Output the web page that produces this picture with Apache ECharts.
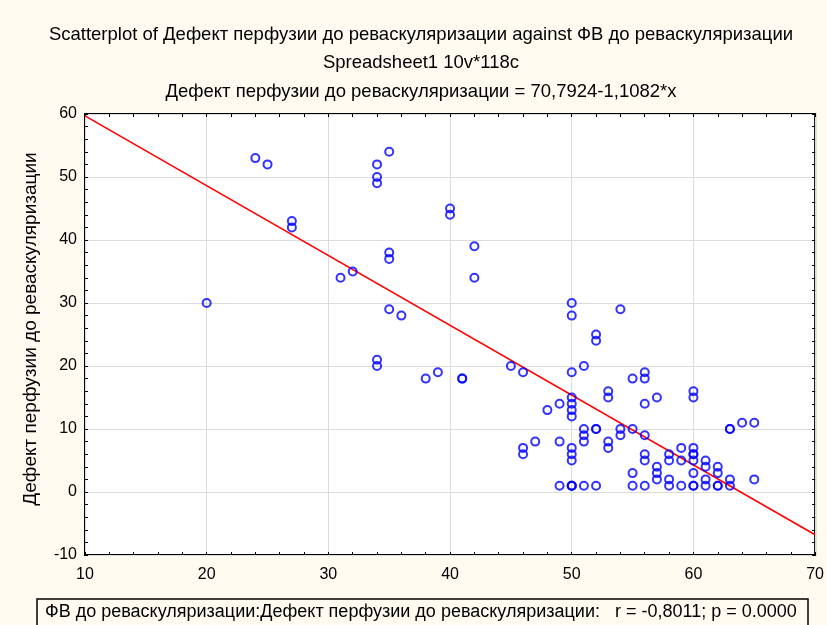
<!DOCTYPE html>
<html>
<head>
<meta charset="utf-8">
<script src="https://cdn.jsdelivr.net/npm/echarts@6/dist/echarts.min.js"></script>
<style>
  html, body { margin: 0; padding: 0; background: #fffbf0; }
  #chart { width: 827px; height: 625px; }
</style>
</head>
<body>
<div id="chart"></div>
<script>
// ФВ до реваскуляризации (x) and Дефект перфузии до реваскуляризации (y), one entry per case
const efValues = [
  20, 24, 25, 27, 27, 31, 32, 34, 34, 34, 35, 35, 35, 35, 36, 34, 34, 38, 39, 40, 40, 41, 41, 42, 42, 45, 46,
  50, 50, 54, 52, 52, 50, 51, 55, 56, 56, 56, 53, 53, 50, 50, 50, 50, 49, 48,
  51, 51, 51, 52, 52, 54, 54, 55, 56, 53, 53, 46, 46, 47, 49, 50, 50, 50, 56, 56, 55,
  49, 50, 50, 50, 51, 52, 55, 56,
  57, 60, 60, 63, 63, 64, 65, 58, 58, 57, 57, 57, 59, 59, 60, 60, 60, 60, 61, 61, 60,
  62, 62, 61, 58, 63, 65, 58, 59, 60, 60, 61, 62, 62, 63
];
const defectValues = [
  30, 53, 52, 43, 42, 34, 35, 52, 50, 49, 54, 38, 37, 29, 28, 21, 20, 18, 19, 45, 44, 18, 18, 39, 34, 20, 19,
  30, 28, 29, 25, 24, 19, 20, 18, 19, 18, 14, 16, 15, 15, 14, 13, 12, 14, 13,
  10, 9, 8, 10, 10, 10, 9, 10, 9, 8, 7, 7, 6, 8, 8, 7, 6, 5, 6, 5, 3,
  1, 1, 1, 1, 1, 1, 1, 1,
  15, 16, 15, 10, 10, 11, 11, 6, 5, 4, 3, 2, 7, 5, 7, 6, 6, 5, 5, 4, 3,
  4, 3, 2, 2, 2, 2, 1, 1, 1, 1, 1, 1, 1, 1
];

// Fitted regression: Дефект = intercept + slope * ФВ
const fitIntercept = 70.7924;
const fitSlope = -1.1082;

// Axis ranges and tick spacing
const xRange = [10, 70];
const yRange = [-10, 60];
const majorStep = 10;
const minorStep = 2;

const titleLines = [
  'Scatterplot of Дефект перфузии до реваскуляризации against ФВ до реваскуляризации',
  'Spreadsheet1 10v*118c',
  'Дефект перфузии до реваскуляризации = 70,7924-1,1082*x'
];
const yAxisTitle = 'Дефект перфузии до реваскуляризации';
const statsText = 'ФВ до реваскуляризации:Дефект перфузии до реваскуляризации:   r = -0,8011; p = 0.0000';

const points = efValues.map((v, i) => [v, defectValues[i]]);
const fitLine = xRange.map(x => [x, fitIntercept + fitSlope * x]);

const FONT = '"Liberation Sans", Arial, sans-serif';
const BG = '#fffbf0';

const chart = echarts.init(document.getElementById('chart'), null, { renderer: 'canvas' });

// Frame-side axes: only short inward ticks every minorStep
const frameAxis = (extra) => Object.assign({
  type: 'value',
  interval: minorStep,
  axisLine: { show: false, onZero: false },
  axisTick: { show: true, inside: true, length: 3, lineStyle: { color: '#000', width: 1 } },
  axisLabel: { show: false },
  splitLine: { show: false }
}, extra);

chart.setOption({
  backgroundColor: BG,
  animation: false,
  grid: {
    left: 85, top: 114, right: 11, bottom: 70,
    show: true, backgroundColor: '#ffffff', borderColor: '#000000', borderWidth: 2
  },
  xAxis: [
    {
      type: 'value', min: xRange[0], max: xRange[1], interval: majorStep,
      axisLine: { show: false, onZero: false }, axisTick: { show: false },
      axisLabel: { color: '#000', fontFamily: FONT, fontSize: 16, margin: 12 },
      splitLine: { show: true, lineStyle: { color: '#dcdcdc', width: 1 } }
    },
    frameAxis({ min: xRange[0], max: xRange[1], position: 'bottom' }),
    frameAxis({ min: xRange[0], max: xRange[1], position: 'top' })
  ],
  yAxis: [
    {
      type: 'value', min: yRange[0], max: yRange[1], interval: majorStep,
      axisLine: { show: false, onZero: false }, axisTick: { show: false },
      axisLabel: { color: '#000', fontFamily: FONT, fontSize: 16, margin: 8 },
      splitLine: { show: true, lineStyle: { color: '#dcdcdc', width: 1 } }
    },
    frameAxis({ min: yRange[0], max: yRange[1], position: 'left' }),
    frameAxis({ min: yRange[0], max: yRange[1], position: 'right' })
  ],
  series: [
    {
      type: 'line',
      data: fitLine,
      showSymbol: false,
      lineStyle: { color: '#ff0000', width: 1.6 },
      z: 2,
      silent: true
    },
    {
      type: 'scatter',
      data: points,
      symbol: 'circle',
      symbolSize: 8,
      itemStyle: { color: 'rgba(0,0,0,0)', borderColor: '#0000ff', borderWidth: 2 },
      z: 3
    }
  ],
  graphic: [
    ...titleLines.map((t, i) => ({
      type: 'text', x: 421, y: [35, 63, 92][i],
      style: { text: t, fill: '#000', font: '18.5px ' + FONT, textAlign: 'center', textVerticalAlign: 'middle' }
    })),
    {
      type: 'text', x: 31, y: 329, rotation: Math.PI / 2,
      style: { text: yAxisTitle, fill: '#000', font: '19px ' + FONT, textAlign: 'center', textVerticalAlign: 'middle' }
    },
    {
      type: 'rect', shape: { x: 37, y: 599, width: 771, height: 40 },
      style: { fill: BG, stroke: '#000', lineWidth: 1.5 }
    },
    {
      type: 'text', x: 45, y: 612,
      style: { text: statsText, fill: '#000', font: '18px ' + FONT, textAlign: 'left', textVerticalAlign: 'middle' }
    }
  ]
});
</script>
</body>
</html>
